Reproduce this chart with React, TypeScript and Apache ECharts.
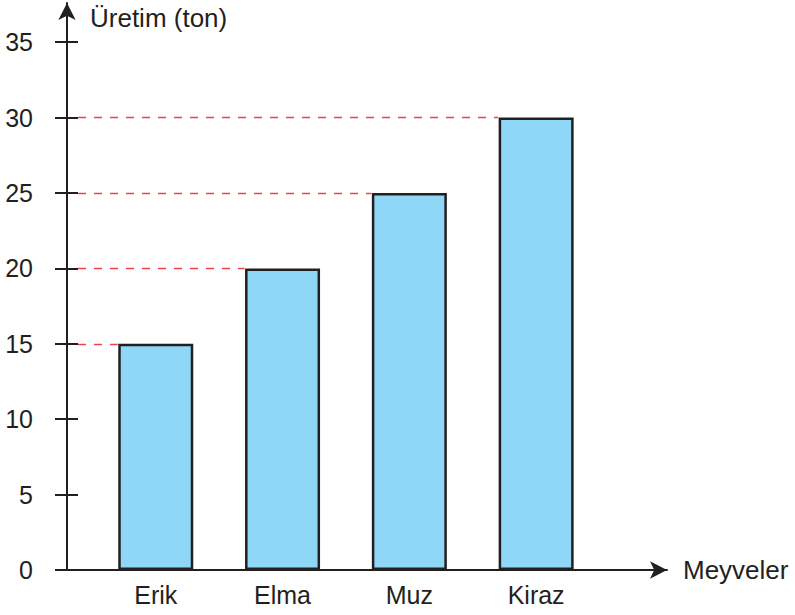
import React, { useEffect, useRef } from "react";
import * as echarts from "echarts";

const categories: string[] = ["Erik", "Elma", "Muz", "Kiraz"];
const production: number[] = [15, 20, 25, 30];
const yTicks: number[] = [0, 5, 10, 15, 20, 25, 30, 35];
const yName = "Üretim (ton)";
const xName = "Meyveler";

const INK = "#231F20";
const RED = "#EC4449";
const FONT = "'Liberation Sans', Arial, Helvetica, sans-serif";

export default function App() {
  const ref = useRef<HTMLDivElement>(null);
  useEffect(() => {
    document.body.style.margin = "0";
    if (!ref.current) return;
    const chart = echarts.init(ref.current, undefined, { renderer: "svg" });
    const xMin = -0.7;
    const xMax = 4.032;
    const yMax = 37.6;
    const dashStart = -0.613;
    const halfBar = 0.3;
    const dashStyle = { color: RED, type: [8, 8], width: 1.4, opacity: 1 };
    const option: any = {
      animation: false,
      grid: { left: 67, right: 128, top: 3, bottom: 45, containLabel: false },
      xAxis: {
        type: "value",
        min: xMin,
        max: xMax,
        name: xName,
        nameLocation: "end",
        nameGap: 16,
        nameTextStyle: { color: INK, fontSize: 26, fontFamily: FONT, align: "left", verticalAlign: "middle" },
        axisLine: { show: true, onZero: false, symbol: ["none", "arrow"], symbolSize: [13, 17], lineStyle: { color: INK, width: 2 } },
        axisTick: { show: false },
        splitLine: { show: false },
        axisLabel: {
          customValues: categories.map((_, i) => i),
          formatter: (v: number) => categories[Math.round(v)] ?? "",
          color: INK,
          fontSize: 25,
          fontFamily: FONT,
          margin: 12,
        },
      },
      yAxis: [
        {
          type: "value",
          position: "left",
          min: 0,
          max: yMax,
          name: yName,
          nameLocation: "end",
          nameGap: -15,
          nameTextStyle: { color: INK, fontSize: 26, fontFamily: FONT, align: "left", verticalAlign: "middle", padding: [0, 0, 0, 23] },
          axisLine: { show: true, onZero: false, symbol: ["none", "arrow"], symbolSize: [13, 17], lineStyle: { color: INK, width: 2 } },
          axisTick: { show: true, customValues: yTicks, length: 12, lineStyle: { color: INK, width: 2 } },
          axisLabel: { customValues: yTicks, color: INK, fontSize: 25, fontFamily: FONT, margin: 34 },
          splitLine: { show: false },
        },
        {
          type: "value",
          position: "left",
          offset: 0,
          min: 0,
          max: yMax,
          axisLine: { show: false, onZero: false },
          axisTick: { show: true, inside: true, customValues: yTicks, length: 11, lineStyle: { color: INK, width: 2 } },
          axisLabel: { show: false },
          splitLine: { show: false },
        },
      ],
      series: [
        {
          type: "bar",
          yAxisIndex: 0,
          barWidth: 75,
          z: 3,
          data: production.map((v, i) => [i, v]),
          itemStyle: { color: "#8ED7F6", borderColor: INK, borderWidth: 2.5 },
          markLine: {
            silent: true,
            symbol: ["none", "none"],
            label: { show: false },
            emphasis: { disabled: true },
            lineStyle: dashStyle,
            data: production.map((v, i) => [
              { coord: [dashStart, v], lineStyle: dashStyle },
              { coord: [i - halfBar, v], lineStyle: dashStyle },
            ]),
          },
        },
      ],
    };
    chart.setOption(option);
    return () => chart.dispose();
  }, []);
  return <div ref={ref} style={{ width: 795, height: 615 }} />;
}
